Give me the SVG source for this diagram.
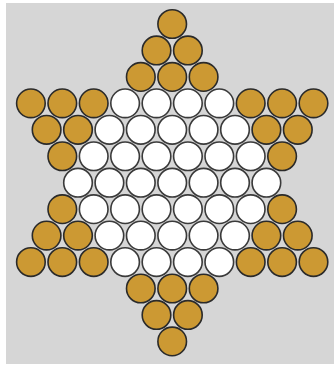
<svg xmlns="http://www.w3.org/2000/svg" width="334" height="365" viewBox="0 0 334 365">
<style>
.g{fill:#cc9933;stroke:#2a2a2a;stroke-width:1.6}
.w{fill:#ffffff;stroke:#3a3a3a;stroke-width:1.6}
</style>
<rect x="0" y="0" width="334" height="365" fill="#ffffff"/>
<rect x="6" y="3" width="328" height="361" fill="#d6d6d6"/>
<g id="connectors"></g>
<g id="nodes">
<g id="r0c0"><circle class="g" cx="172.2" cy="24" r="14.3"/></g>
<g id="r1c0"><circle class="g" cx="156.5" cy="50.45" r="14.3"/></g>
<g id="r1c1"><circle class="g" cx="187.9" cy="50.45" r="14.3"/></g>
<g id="r2c0"><circle class="g" cx="140.8" cy="76.9" r="14.3"/></g>
<g id="r2c1"><circle class="g" cx="172.2" cy="76.9" r="14.3"/></g>
<g id="r2c2"><circle class="g" cx="203.6" cy="76.9" r="14.3"/></g>
<g id="r3c0"><circle class="g" cx="30.9" cy="103.35" r="14.3"/></g>
<g id="r3c1"><circle class="g" cx="62.3" cy="103.35" r="14.3"/></g>
<g id="r3c2"><circle class="g" cx="93.7" cy="103.35" r="14.3"/></g>
<g id="r3c3"><circle class="w" cx="125.1" cy="103.35" r="14.3"/></g>
<g id="r3c4"><circle class="w" cx="156.5" cy="103.35" r="14.3"/></g>
<g id="r3c5"><circle class="w" cx="187.9" cy="103.35" r="14.3"/></g>
<g id="r3c6"><circle class="w" cx="219.3" cy="103.35" r="14.3"/></g>
<g id="r3c7"><circle class="g" cx="250.7" cy="103.35" r="14.3"/></g>
<g id="r3c8"><circle class="g" cx="282.1" cy="103.35" r="14.3"/></g>
<g id="r3c9"><circle class="g" cx="313.5" cy="103.35" r="14.3"/></g>
<g id="r4c0"><circle class="g" cx="46.6" cy="129.8" r="14.3"/></g>
<g id="r4c1"><circle class="g" cx="78.0" cy="129.8" r="14.3"/></g>
<g id="r4c2"><circle class="w" cx="109.4" cy="129.8" r="14.3"/></g>
<g id="r4c3"><circle class="w" cx="140.8" cy="129.8" r="14.3"/></g>
<g id="r4c4"><circle class="w" cx="172.2" cy="129.8" r="14.3"/></g>
<g id="r4c5"><circle class="w" cx="203.6" cy="129.8" r="14.3"/></g>
<g id="r4c6"><circle class="w" cx="235.0" cy="129.8" r="14.3"/></g>
<g id="r4c7"><circle class="g" cx="266.4" cy="129.8" r="14.3"/></g>
<g id="r4c8"><circle class="g" cx="297.8" cy="129.8" r="14.3"/></g>
<g id="r5c0"><circle class="g" cx="62.3" cy="156.25" r="14.3"/></g>
<g id="r5c1"><circle class="w" cx="93.7" cy="156.25" r="14.3"/></g>
<g id="r5c2"><circle class="w" cx="125.1" cy="156.25" r="14.3"/></g>
<g id="r5c3"><circle class="w" cx="156.5" cy="156.25" r="14.3"/></g>
<g id="r5c4"><circle class="w" cx="187.9" cy="156.25" r="14.3"/></g>
<g id="r5c5"><circle class="w" cx="219.3" cy="156.25" r="14.3"/></g>
<g id="r5c6"><circle class="w" cx="250.7" cy="156.25" r="14.3"/></g>
<g id="r5c7"><circle class="g" cx="282.1" cy="156.25" r="14.3"/></g>
<g id="r6c0"><circle class="w" cx="78.0" cy="182.7" r="14.3"/></g>
<g id="r6c1"><circle class="w" cx="109.4" cy="182.7" r="14.3"/></g>
<g id="r6c2"><circle class="w" cx="140.8" cy="182.7" r="14.3"/></g>
<g id="r6c3"><circle class="w" cx="172.2" cy="182.7" r="14.3"/></g>
<g id="r6c4"><circle class="w" cx="203.6" cy="182.7" r="14.3"/></g>
<g id="r6c5"><circle class="w" cx="235.0" cy="182.7" r="14.3"/></g>
<g id="r6c6"><circle class="w" cx="266.4" cy="182.7" r="14.3"/></g>
<g id="r7c0"><circle class="g" cx="62.3" cy="209.15" r="14.3"/></g>
<g id="r7c1"><circle class="w" cx="93.7" cy="209.15" r="14.3"/></g>
<g id="r7c2"><circle class="w" cx="125.1" cy="209.15" r="14.3"/></g>
<g id="r7c3"><circle class="w" cx="156.5" cy="209.15" r="14.3"/></g>
<g id="r7c4"><circle class="w" cx="187.9" cy="209.15" r="14.3"/></g>
<g id="r7c5"><circle class="w" cx="219.3" cy="209.15" r="14.3"/></g>
<g id="r7c6"><circle class="w" cx="250.7" cy="209.15" r="14.3"/></g>
<g id="r7c7"><circle class="g" cx="282.1" cy="209.15" r="14.3"/></g>
<g id="r8c0"><circle class="g" cx="46.6" cy="235.6" r="14.3"/></g>
<g id="r8c1"><circle class="g" cx="78.0" cy="235.6" r="14.3"/></g>
<g id="r8c2"><circle class="w" cx="109.4" cy="235.6" r="14.3"/></g>
<g id="r8c3"><circle class="w" cx="140.8" cy="235.6" r="14.3"/></g>
<g id="r8c4"><circle class="w" cx="172.2" cy="235.6" r="14.3"/></g>
<g id="r8c5"><circle class="w" cx="203.6" cy="235.6" r="14.3"/></g>
<g id="r8c6"><circle class="w" cx="235.0" cy="235.6" r="14.3"/></g>
<g id="r8c7"><circle class="g" cx="266.4" cy="235.6" r="14.3"/></g>
<g id="r8c8"><circle class="g" cx="297.8" cy="235.6" r="14.3"/></g>
<g id="r9c0"><circle class="g" cx="30.9" cy="262.05" r="14.3"/></g>
<g id="r9c1"><circle class="g" cx="62.3" cy="262.05" r="14.3"/></g>
<g id="r9c2"><circle class="g" cx="93.7" cy="262.05" r="14.3"/></g>
<g id="r9c3"><circle class="w" cx="125.1" cy="262.05" r="14.3"/></g>
<g id="r9c4"><circle class="w" cx="156.5" cy="262.05" r="14.3"/></g>
<g id="r9c5"><circle class="w" cx="187.9" cy="262.05" r="14.3"/></g>
<g id="r9c6"><circle class="w" cx="219.3" cy="262.05" r="14.3"/></g>
<g id="r9c7"><circle class="g" cx="250.7" cy="262.05" r="14.3"/></g>
<g id="r9c8"><circle class="g" cx="282.1" cy="262.05" r="14.3"/></g>
<g id="r9c9"><circle class="g" cx="313.5" cy="262.05" r="14.3"/></g>
<g id="r10c0"><circle class="g" cx="140.8" cy="288.5" r="14.3"/></g>
<g id="r10c1"><circle class="g" cx="172.2" cy="288.5" r="14.3"/></g>
<g id="r10c2"><circle class="g" cx="203.6" cy="288.5" r="14.3"/></g>
<g id="r11c0"><circle class="g" cx="156.5" cy="314.95" r="14.3"/></g>
<g id="r11c1"><circle class="g" cx="187.9" cy="314.95" r="14.3"/></g>
<g id="r12c0"><circle class="g" cx="172.2" cy="341.4" r="14.3"/></g>
</g>
</svg>
